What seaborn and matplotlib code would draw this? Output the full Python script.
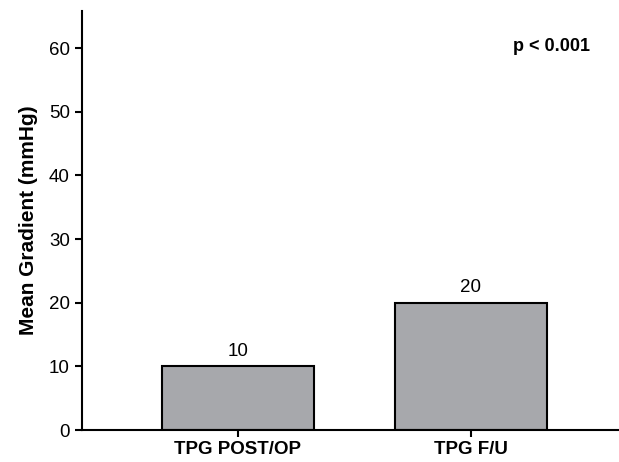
import matplotlib
matplotlib.use("Agg")
import matplotlib.pyplot as plt
import matplotlib.transforms as mtransforms
import seaborn as sns
import pandas as pd

groups = ["TPG POST/OP", "TPG F/U"]
means = [10, 20]
ylabel = "Mean Gradient (mmHg)"
pvalue_text = "p < 0.001"

sns.set_style("ticks")
plt.rcParams['font.family'] = ['Liberation Sans', 'DejaVu Sans']
plt.rcParams['text.color'] = 'black'
plt.rcParams['axes.labelcolor'] = 'black'
plt.rcParams['xtick.color'] = 'black'
plt.rcParams['ytick.color'] = 'black'
plt.rcParams['axes.edgecolor'] = 'black'

df = pd.DataFrame({"group": groups, "mean": means})

fig, ax = plt.subplots(figsize=(6.19, 4.62), dpi=100)
sns.barplot(data=df, x="group", y="mean", color="#a7a8ac", edgecolor="black",
            linewidth=1.5, width=0.65, saturation=1, ax=ax)

for i, v in enumerate(means):
    ax.text(i, v + 1.0, str(v), ha="center", va="bottom", fontsize=13.5)

trans = mtransforms.blended_transform_factory(ax.transAxes, ax.transData)
ax.text(0.874, 60.3, pvalue_text, transform=trans,
        ha="center", va="center", fontsize=13, fontweight="bold")

ax.set_xlim(-0.67, 1.635)
ax.set_ylim(0, 65.8)
ax.set_yticks(range(0, 70, 10))
ax.set_xlabel("")
ax.set_ylabel(ylabel, fontsize=15, fontweight="bold", labelpad=8)
for lab in ax.get_xticklabels():
    lab.set_fontweight("bold")
ax.tick_params(axis="x", labelsize=13.5, width=1.5, length=5, pad=3)
ax.tick_params(axis="y", labelsize=13.5, width=1.5, length=5)
sns.despine(ax=ax, top=True, right=True)
for s in ["left", "bottom"]:
    ax.spines[s].set_linewidth(1.5)

fig.subplots_adjust(left=0.132, right=1.0, top=0.976, bottom=0.069)
fig.savefig("out.png", dpi=100)
